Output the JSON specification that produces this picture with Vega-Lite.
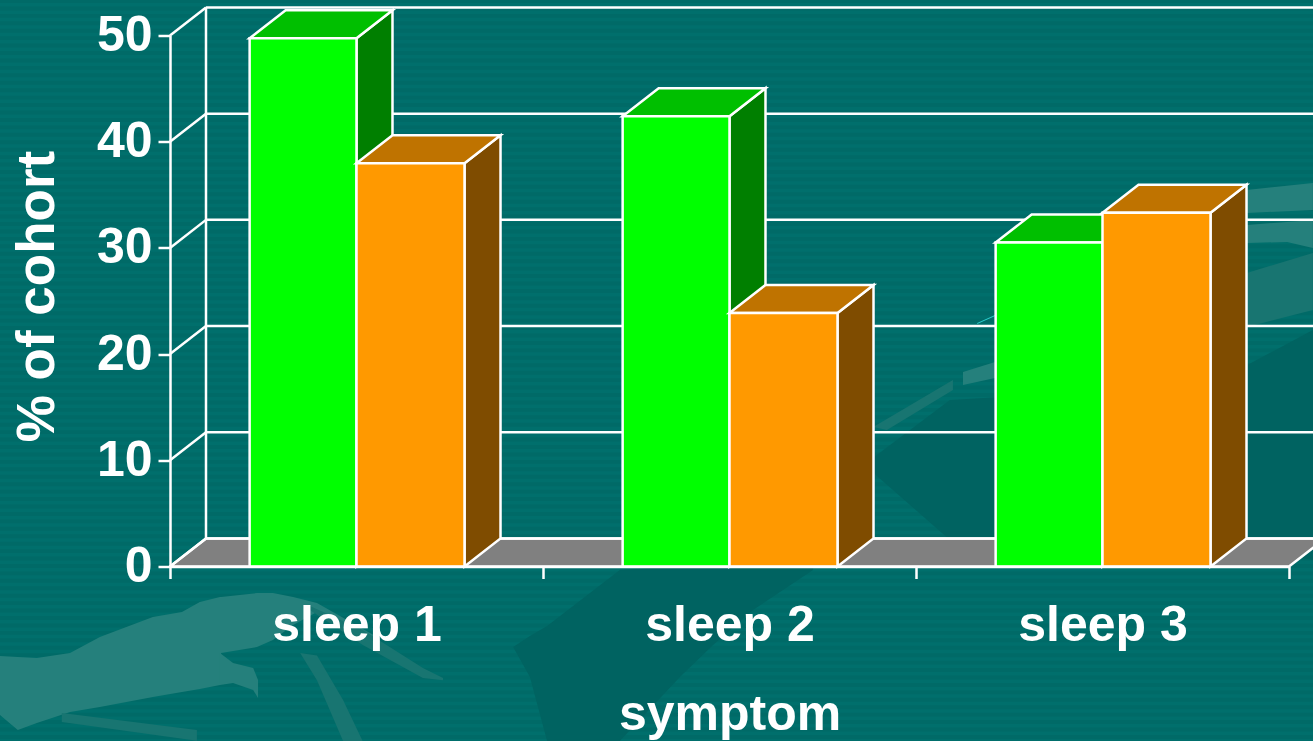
{
"$schema":"https://vega.github.io/schema/vega-lite/v6.json",
"width":1119,"height":531,
"autosize":{"type":"none"},
"padding":{"left":170,"top":35.5,"right":24,"bottom":174.5},
"background":"#006a67",
"config":{"view":{"stroke":null},"font":"Liberation Sans"},
"datasets":{
"bars":[
{"symptom":"sleep 1","group":"A","value":49.74},
{"symptom":"sleep 1","group":"B","value":37.97},
{"symptom":"sleep 2","group":"A","value":42.4},
{"symptom":"sleep 2","group":"B","value":23.87},
{"symptom":"sleep 3","group":"A","value":30.5},
{"symptom":"sleep 3","group":"B","value":33.3}],
"ticks":[{"v":0},{"v":10},{"v":20},{"v":30},{"v":40},{"v":50}],
"stripes":[{"v":-16.4},{"v":-15.7},{"v":-15},{"v":-14.3},{"v":-13.6},{"v":-12.9},{"v":-12.2},{"v":-11.5},{"v":-10.8},{"v":-10.1},{"v":-9.4},{"v":-8.7},{"v":-8},{"v":-7.3},{"v":-6.6},{"v":-5.9},{"v":-5.2},{"v":-4.5},{"v":-3.8},{"v":-3.1},{"v":-2.4},{"v":-1.7},{"v":-1},{"v":-0.3},{"v":0.4},{"v":1.1},{"v":1.8},{"v":2.5},{"v":3.2},{"v":3.9},{"v":4.6},{"v":5.3},{"v":6},{"v":6.7},{"v":7.4},{"v":8.1},{"v":8.8},{"v":9.5},{"v":10.2},{"v":10.9},{"v":11.6},{"v":12.3},{"v":13},{"v":13.7},{"v":14.4},{"v":15.1},{"v":15.8},{"v":16.5},{"v":17.2},{"v":17.9},{"v":18.6},{"v":19.3},{"v":20},{"v":20.7},{"v":21.4},{"v":22.1},{"v":22.8},{"v":23.5},{"v":24.2},{"v":24.9},{"v":25.6},{"v":26.3},{"v":27},{"v":27.7},{"v":28.4},{"v":29.1},{"v":29.8},{"v":30.5},{"v":31.2},{"v":31.9},{"v":32.6},{"v":33.3},{"v":34},{"v":34.7},{"v":35.4},{"v":36.1},{"v":36.8},{"v":37.5},{"v":38.2},{"v":38.9},{"v":39.6},{"v":40.3},{"v":41},{"v":41.7},{"v":42.4},{"v":43.1},{"v":43.8},{"v":44.5},{"v":45.2},{"v":45.9},{"v":46.6},{"v":47.3},{"v":48},{"v":48.7},{"v":49.4},{"v":50.1},{"v":50.8},{"v":51.5},{"v":52.2},{"v":52.9}],
"decor":[
{"shape":"f","tone":"dark","X":0.92,"Y":-7.58,"Y2":-7.58},{"shape":"f","tone":"dark","X":0.965,"Y":-6.54,"Y2":-10.4},{"shape":"f","tone":"dark","X":1.011,"Y":-5.6,"Y2":-16.43},{"shape":"f","tone":"dark","X":1.206,"Y":-0.33,"Y2":-16.43},{"shape":"f","tone":"dark","X":1.367,"Y":0.05,"Y2":-10.4},{"shape":"f","tone":"dark","X":1.456,"Y":0.05,"Y2":-7.39},{"shape":"f","tone":"dark","X":1.563,"Y":0.05,"Y2":-4.1},{"shape":"f","tone":"dark","X":1.724,"Y":0.05,"Y2":-0.33},
{"shape":"g","tone":"dark","X":1.877,"Y":10.03,"Y2":9.09},{"shape":"g","tone":"dark","X":2.091,"Y":15.68,"Y2":2.5},{"shape":"g","tone":"dark","X":2.788,"Y":17.09,"Y2":2.5},{"shape":"g","tone":"dark","X":3.064,"Y":22.27,"Y2":0.61},
{"shape":"a","tone":"light","X":-0.456,"Y":-8.43,"Y2":-13.98},{"shape":"a","tone":"light","X":-0.408,"Y":-8.52,"Y2":-15.4},{"shape":"a","tone":"light","X":-0.357,"Y":-8.62,"Y2":-14.74},{"shape":"a","tone":"light","X":-0.268,"Y":-8.15,"Y2":-13.7},{"shape":"a","tone":"light","X":-0.188,"Y":-6.64,"Y2":-13.23},{"shape":"a","tone":"light","X":-0.046,"Y":-4.76,"Y2":-12.29},{"shape":"a","tone":"light","X":0.032,"Y":-4.28,"Y2":-11.82},{"shape":"a","tone":"light","X":0.08,"Y":-3.34,"Y2":-11.54},{"shape":"a","tone":"light","X":0.134,"Y":-2.87,"Y2":-11.16},{"shape":"a","tone":"light","X":0.137,"Y":-2.87,"Y2":-8.15},{"shape":"a","tone":"light","X":0.233,"Y":-2.5,"Y2":-7.58},{"shape":"a","tone":"light","X":0.276,"Y":-2.5,"Y2":-6.92},{"shape":"a","tone":"light","X":0.33,"Y":-2.87,"Y2":-5.51},{"shape":"a","tone":"light","X":0.394,"Y":-3.44,"Y2":-4.28},{"shape":"a","tone":"light","X":0.555,"Y":-6.64,"Y2":-6.92},
{"shape":"b","tone":"light","X":0.134,"Y":-8.15,"Y2":-11.16},{"shape":"b","tone":"light","X":0.169,"Y":-9.09,"Y2":-10.97},{"shape":"b","tone":"light","X":0.223,"Y":-9.56,"Y2":-11.63},{"shape":"b","tone":"light","X":0.236,"Y":-10.69,"Y2":-12.38},
{"shape":"c","tone":"mid","X":-0.29,"Y":-13.79,"Y2":-14.64},{"shape":"c","tone":"mid","X":0.072,"Y":-15.4,"Y2":-16.4},
{"shape":"d","tone":"mid","X":0.349,"Y":-8.15,"Y2":-8.15},{"shape":"d","tone":"mid","X":0.394,"Y":-8.37,"Y2":-10.72},{"shape":"d","tone":"mid","X":0.464,"Y":-12.57,"Y2":-16.43},{"shape":"d","tone":"mid","X":0.517,"Y":-16.48,"Y2":-16.48},
{"shape":"e","tone":"mid","X":0.375,"Y":-3.72,"Y2":-4.1},{"shape":"e","tone":"mid","X":0.517,"Y":-5.98,"Y2":-7.39},{"shape":"e","tone":"mid","X":0.678,"Y":-9.55,"Y2":-10.5},{"shape":"e","tone":"mid","X":0.732,"Y":-10.5,"Y2":-10.7},
{"shape":"r1","tone":"light","X":2.887,"Y":35.45,"Y2":33.29},{"shape":"r1","tone":"light","X":3.064,"Y":36.11,"Y2":33.57},
{"shape":"r2","tone":"light","X":2.887,"Y":32.16,"Y2":30.46},{"shape":"r2","tone":"light","X":2.995,"Y":32.44,"Y2":30.56},{"shape":"r2","tone":"light","X":3.064,"Y":32.63,"Y2":29.99},
{"shape":"r3","tone":"mid","X":2.887,"Y":27.64,"Y2":22.55},{"shape":"r3","tone":"mid","X":3.064,"Y":29.52,"Y2":24.15},
{"shape":"s1","tone":"light","X":2.126,"Y":18.31,"Y2":17.09},{"shape":"s1","tone":"light","X":2.212,"Y":19.26,"Y2":17.75},
{"shape":"s2","tone":"mid","X":1.885,"Y":13.14,"Y2":13.14},{"shape":"s2","tone":"mid","X":1.922,"Y":13.89,"Y2":12.85},{"shape":"s2","tone":"mid","X":2.099,"Y":17.56,"Y2":16.62},
{"shape":"s3","tone":"cyan","X":2.164,"Y":22.93,"Y2":22.83},{"shape":"s3","tone":"cyan","X":2.212,"Y":23.68,"Y2":23.58}
]},
"encoding":{
"x":{"field":"X","type":"quantitative","scale":{"domain":[0,3],"nice":false,"zero":false},
 "axis":{"zindex":1,"values":[0,0.5,1,1.5,2,2.5,3],"grid":false,"title":"symptom","domainColor":"white","domainWidth":2.5,"tickColor":"white","tickWidth":2.5,"tickSize":12,
 "tickOpacity":{"condition":{"test":"datum.value % 1 === 0","value":1},"value":0},
 "labelExpr":"datum.value==0.5?'sleep 1':datum.value==1.5?'sleep 2':datum.value==2.5?'sleep 3':''",
 "labelColor":"white","labelFont":"Liberation Sans","labelFontWeight":"bold","labelFontSize":50,"labelPadding":22,"labelOverlap":false,"labelFlush":false,
 "titleColor":"white","titleFont":"Liberation Sans","titleFontWeight":"bold","titleFontSize":50,"titlePadding":39}},
"y":{"field":"Y","type":"quantitative","scale":{"domain":[0,50],"nice":false,"zero":false},
 "axis":{"zindex":1,"values":[0,10,20,30,40,50],"grid":false,"title":"% of cohort","domainColor":"white","domainWidth":2.5,"tickColor":"white","tickWidth":2.5,"tickSize":12,
 "labelColor":"white","labelFont":"Liberation Sans","labelFontWeight":"bold","labelFontSize":50,"labelPadding":6,"labelOverlap":false,"labelFlush":false,
 "titleColor":"white","titleFont":"Liberation Sans","titleFontWeight":"bold","titleFontSize":53,"titlePadding":32,"titleY":260.5}}
},
"layer":[
{"data":{"name":"stripes"},
 "transform":[{"calculate":"-0.46","as":"X"},{"calculate":"3.07","as":"X2"},{"calculate":"datum.v","as":"Y"}],
 "mark":{"type":"rule","color":"#006f6c","strokeWidth":3.5,"clip":false},
 "encoding":{"x2":{"field":"X2"}}},
{"data":{"name":"decor"},"mark":{"type":"area","clip":false},
 "encoding":{"y2":{"field":"Y2"},"detail":{"field":"shape"},
 "color":{"field":"tone","type":"nominal","legend":null,"scale":{"domain":["dark","light","mid","cyan"],"range":["#006361","#25807c","#187571","#2ccfcf"]}}}},
{"data":{"values":[{"v":0}]},
 "transform":[{"calculate":"[0,1,2,3]","as":"k"},{"flatten":["k"]},
  {"calculate":"[0,0.0965,3,3.0965][datum.k]","as":"X"},
  {"calculate":"[0,0,0,2.64][datum.k]","as":"Y"},
  {"calculate":"[0,2.64,2.64,2.64][datum.k]","as":"Y2"}],
 "mark":{"type":"area","clip":false,"fill":"#808080","stroke":"white","strokeWidth":2.5},
 "encoding":{"y2":{"field":"Y2"}}},
{"data":{"name":"ticks"},
 "transform":[{"calculate":"0.0965","as":"X"},{"calculate":"3.0965","as":"X2"},{"calculate":"datum.v+2.64","as":"Y"},{"calculate":"datum.v+2.64","as":"Y2"}],
 "mark":{"type":"rule","color":"white","strokeWidth":2.5,"clip":false},
 "encoding":{"x2":{"field":"X2"},"y2":{"field":"Y2"}}},
{"data":{"name":"ticks"},
 "transform":[{"calculate":"0","as":"X"},{"calculate":"0.0965","as":"X2"},{"calculate":"datum.v","as":"Y"},{"calculate":"datum.v+2.64","as":"Y2"}],
 "mark":{"type":"rule","color":"white","strokeWidth":2.5,"clip":false},
 "encoding":{"x2":{"field":"X2"},"y2":{"field":"Y2"}}},
{"data":{"values":[{"v":50}]},
 "transform":[{"calculate":"0.0965","as":"X"},{"calculate":"0.0965","as":"X2"},{"calculate":"2.64","as":"Y"},{"calculate":"datum.v+2.64","as":"Y2"}],
 "mark":{"type":"rule","color":"white","strokeWidth":2.5,"clip":false},
 "encoding":{"x2":{"field":"X2"},"y2":{"field":"Y2"}}},
{"data":{"name":"bars"},
 "transform":[
  {"calculate":"indexof(['sleep 1','sleep 2','sleep 3'],datum.symptom)","as":"idx"},
  {"calculate":"datum.idx+(datum.group=='A'?0.2135:0.5)","as":"x0"},
  {"calculate":"datum.idx+(datum.group=='A'?0.5:0.7896)","as":"x1"}],
 "layer":[
 {"transform":[{"filter":"datum.group=='A'"},{"calculate":"[0,1]","as":"k"},{"flatten":["k"]},{"calculate":"datum.x1+datum.k*0.0965","as":"X"},{"calculate":"datum.k*2.64","as":"Y"},{"calculate":"datum.value+datum.k*2.64","as":"Y2"}],
  "mark":{"type":"area","clip":false,"fill":"#007f00","stroke":"white","strokeWidth":2.5},
  "encoding":{"y2":{"field":"Y2"},"detail":{"field":"symptom"}}},
 {"transform":[{"filter":"datum.group=='A'"},{"calculate":"[0,1,2,3]","as":"k"},{"flatten":["k"]},{"calculate":"[datum.x0,datum.x0+0.0965,datum.x1,datum.x1+0.0965][datum.k]","as":"X"},{"calculate":"datum.value+[0,0,0,2.64][datum.k]","as":"Y"},{"calculate":"datum.value+[0,2.64,2.64,2.64][datum.k]","as":"Y2"}],
  "mark":{"type":"area","clip":false,"fill":"#00bf00","stroke":"white","strokeWidth":2.5},
  "encoding":{"y2":{"field":"Y2"},"detail":{"field":"symptom"}}},
 {"transform":[{"filter":"datum.group=='A'"},{"calculate":"datum.x0","as":"X"},{"calculate":"datum.x1","as":"X2"},{"calculate":"0","as":"Y"},{"calculate":"datum.value","as":"Y2"}],
  "mark":{"type":"rect","clip":false,"fill":"#00ff00","stroke":"white","strokeWidth":2.5},
  "encoding":{"x2":{"field":"X2"},"y2":{"field":"Y2"}}},
 {"transform":[{"filter":"datum.group=='B'"},{"calculate":"[0,1]","as":"k"},{"flatten":["k"]},{"calculate":"datum.x1+datum.k*0.0965","as":"X"},{"calculate":"datum.k*2.64","as":"Y"},{"calculate":"datum.value+datum.k*2.64","as":"Y2"}],
  "mark":{"type":"area","clip":false,"fill":"#7f4c00","stroke":"white","strokeWidth":2.5},
  "encoding":{"y2":{"field":"Y2"},"detail":{"field":"symptom"}}},
 {"transform":[{"filter":"datum.group=='B'"},{"calculate":"[0,1,2,3]","as":"k"},{"flatten":["k"]},{"calculate":"[datum.x0,datum.x0+0.0965,datum.x1,datum.x1+0.0965][datum.k]","as":"X"},{"calculate":"datum.value+[0,0,0,2.64][datum.k]","as":"Y"},{"calculate":"datum.value+[0,2.64,2.64,2.64][datum.k]","as":"Y2"}],
  "mark":{"type":"area","clip":false,"fill":"#bf7300","stroke":"white","strokeWidth":2.5},
  "encoding":{"y2":{"field":"Y2"},"detail":{"field":"symptom"}}},
 {"transform":[{"filter":"datum.group=='B'"},{"calculate":"datum.x0","as":"X"},{"calculate":"datum.x1","as":"X2"},{"calculate":"0","as":"Y"},{"calculate":"datum.value","as":"Y2"}],
  "mark":{"type":"rect","clip":false,"fill":"#ff9900","stroke":"white","strokeWidth":2.5},
  "encoding":{"x2":{"field":"X2"},"y2":{"field":"Y2"}}}
 ]}
]
}
